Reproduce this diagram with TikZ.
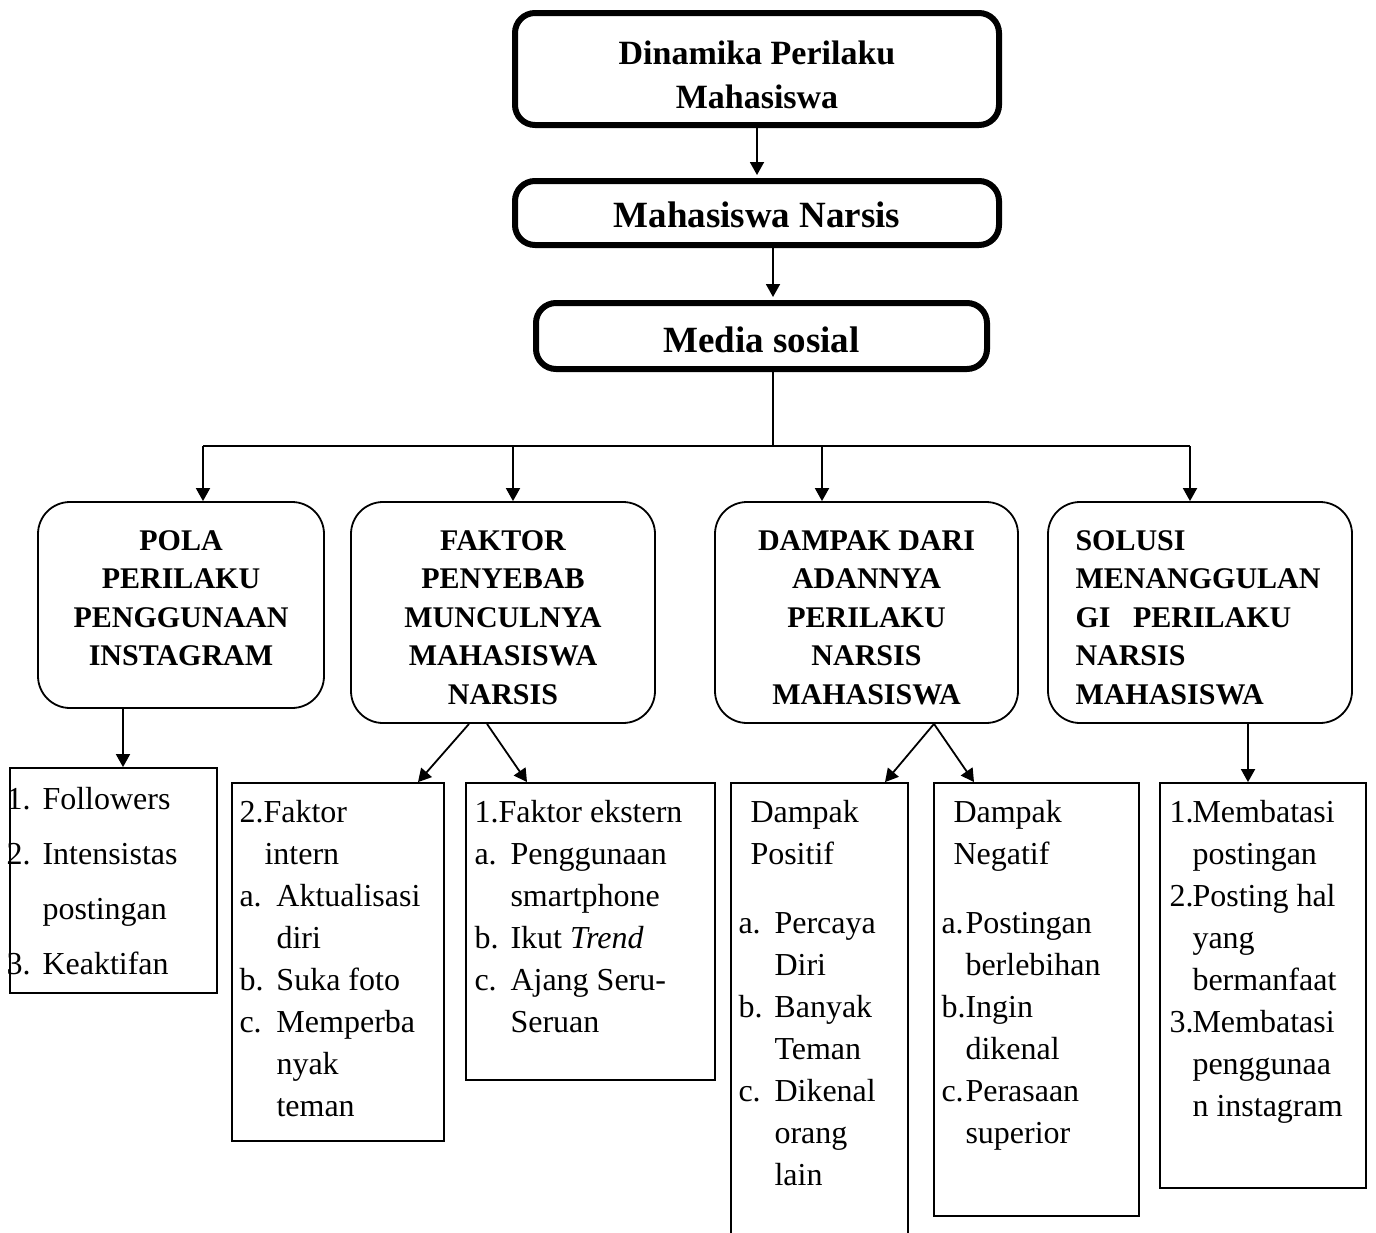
\documentclass[tikz,border=0pt]{standalone}
\usepackage{fontspec}
\setmainfont{Liberation Serif}
\usetikzlibrary{arrows.meta}

\newcommand{\lbl}[2]{\makebox[#1][l]{#2}}
\newcommand{\ind}[1]{\hspace*{#1}}

\begin{document}
\begin{tikzpicture}[x=0.5pt,y=-0.5pt,
        txt/.style={anchor=north west,inner sep=0pt,align=left,font=\fontsize{16}{21}\selectfont},
        head/.style={inner sep=0pt,align=center,font=\fontsize{15}{19.25}\selectfont\bfseries}]
    \useasboundingbox (0,0) rectangle (1376,1232);
    % top chain
    \begin{scope}[every node/.style={draw,line width=3pt,rounded corners=10pt,align=center,inner sep=0pt}]
        \node (dyn) [minimum width=242pt,minimum height=56pt] at (757,69) {};
        \node (nar) [minimum width=242pt,minimum height=32pt,text height=14.6pt,font=\fontsize{18.5}{22}\selectfont\bfseries] at (757,213) {Mahasiswa Narsis};
        \node (med) [minimum width=225.5pt,minimum height=33pt,text height=16.6pt,font=\fontsize{18.5}{22}\selectfont\bfseries] at (761.5,336) {Media sosial};
    \end{scope}
    \node[inner sep=0pt,align=center,font=\fontsize{17}{22}\selectfont\bfseries] (tdyn) at ([yshift=-3pt]dyn.center) {Dinamika Perilaku\\Mahasiswa};
    % second row
    \begin{scope}[every node/.style={draw,line width=0.9pt,rounded corners=16pt,inner sep=0pt}]
        \node (pola) [minimum width=143pt,minimum height=103pt] at (181,605) {};
        \node (fak) [minimum width=152pt,minimum height=110.5pt] at (503,612.5) {};
        \node (dam) [minimum width=151.5pt,minimum height=110.5pt] at (866.5,612.5) {};
        \node (sol) [minimum width=152pt,minimum height=110.5pt] at (1200,612.5) {};
    \end{scope}
    \node[head] (hpola) at ([yshift=3.5pt]pola.center) {POLA\\PERILAKU\\PENGGUNAAN\\INSTAGRAM};
    \node[head] (hfak) at ([yshift=-2.5pt]fak.center) {FAKTOR\\PENYEBAB\\MUNCULNYA\\MAHASISWA\\NARSIS};
    \node[head] (hdam) at ([yshift=-2.5pt]dam.center) {DAMPAK DARI\\ADANNYA\\PERILAKU\\NARSIS\\MAHASISWA};
    \node[head,align=left] (hsol) at ([xshift=-1pt,yshift=-2.5pt]sol.center) {SOLUSI\\MENANGGULAN\\GI\ \ \ PERILAKU\\NARSIS\\MAHASISWA};
    % list boxes
    \begin{scope}[every node/.style={draw,line width=0.9pt,inner sep=0pt}]
        \node (lpola) [minimum width=103.5pt,minimum height=112.5pt] at (113.5,880.5) {};
        \node (lintern) [minimum width=106pt,minimum height=179pt] at (338,962) {};
        \node (lekstern) [minimum width=124.5pt,minimum height=148.5pt] at (590.5,931.5) {};
        \node (lpositif) [minimum width=88.5pt,minimum height=233.5pt] at (819.5,1016.5) {};
        \node (lnegatif) [minimum width=102.5pt,minimum height=216.5pt] at (1036.5,999.5) {};
        \node (lsolusi) [minimum width=103pt,minimum height=202.5pt] at (1263,985.5) {};
    \end{scope}
    % list texts
    \node[txt,font=\fontsize{16}{27.5}\selectfont] (tpola) at ([xshift=-1.5pt,yshift=-10pt]lpola.north west)
        {\lbl{18pt}{1.}Followers\\\lbl{18pt}{2.}Intensistas\\\ind{18pt}postingan\\\lbl{18pt}{3.}Keaktifan};
    \node[txt] (tintern) at ([xshift=4pt,yshift=-9pt]lintern.north west)
        {2.Faktor\\\ind{12.5pt}intern\\\lbl{18.5pt}{a.}Aktualisasi\\\ind{18.5pt}diri\\\lbl{18.5pt}{b.}Suka foto\\\lbl{18.5pt}{c.}Memperba\\\ind{18.5pt}nyak\\\ind{18.5pt}teman};
    \node[txt] (tekstern) at ([xshift=4.5pt,yshift=-9pt]lekstern.north west)
        {1.Faktor ekstern\\\lbl{18pt}{a.}Penggunaan\\\ind{18pt}smartphone\\\lbl{18pt}{b.}Ikut \textit{Trend}\\\lbl{18pt}{c.}Ajang Seru-\\\ind{18pt}Seruan};
    \node[txt] (tpositif) at ([xshift=4pt,yshift=-9pt]lpositif.north west)
        {\ind{6pt}Dampak\\\ind{6pt}Positif\\[13.5pt]\lbl{18pt}{a.}Percaya\\\ind{18pt}Diri\\\lbl{18pt}{b.}Banyak\\\ind{18pt}Teman\\\lbl{18pt}{c.}Dikenal\\\ind{18pt}orang\\\ind{18pt}lain};
    \node[txt] (tnegatif) at ([xshift=4pt,yshift=-9pt]lnegatif.north west)
        {\ind{6pt}Dampak\\\ind{6pt}Negatif\\[13.5pt]\lbl{12pt}{a.}Postingan\\\ind{12pt}berlebihan\\\lbl{12pt}{b.}Ingin\\\ind{12pt}dikenal\\\lbl{12pt}{c.}Perasaan\\\ind{12pt}superior};
    \node[txt] (tsolusi) at ([xshift=5pt,yshift=-9pt]lsolusi.north west)
        {\lbl{11.5pt}{1.}Membatasi\\\ind{11.5pt}postingan\\\lbl{11.5pt}{2.}Posting hal\\\ind{11.5pt}yang\\\ind{11.5pt}bermanfaat\\\lbl{11.5pt}{3.}Membatasi\\\ind{11.5pt}penggunaa\\\ind{11.5pt}n instagram};
    % bus
    \coordinate (bus) at (773,446);
    \coordinate (d1) at (203,446);
    \coordinate (d2) at (513,446);
    \coordinate (d3) at (822,446);
    \coordinate (d4) at (1190,446);
    \draw[line width=0.9pt] (med.south -| bus) -- (bus);
    \draw[line width=0.9pt] (d1) -- (d4);
    % arrows
    \begin{scope}[every edge/.style={draw,line width=0.9pt,-{Triangle[length=6.5pt,width=7pt]}}]
        \path
            (dyn.south) edge[shorten >=1.5pt] (nar.north)
            ([xshift=8pt]nar.south) edge[shorten >=1.5pt] ([xshift=8pt]nar.south |- med.north)
            (d1) edge (d1 |- pola.north)
            (d2) edge (d2 |- fak.north)
            (d3) edge (d3 |- dam.north)
            (d4) edge (d4 |- sol.north)
            ([xshift=-29pt]pola.south) edge ([xshift=-29pt]pola.south |- lpola.north)
            ([xshift=-17pt]fak.south) edge ([xshift=40pt]lintern.north)
            ([xshift=-8pt]fak.south) edge ([xshift=-31.75pt]lekstern.north)
            ([xshift=33.75pt]dam.south) edge ([xshift=32.75pt]lpositif.north)
            ([xshift=33.75pt]dam.south) edge ([xshift=-31.25pt]lnegatif.north)
            ([xshift=24pt]sol.south) edge ([xshift=24pt]sol.south |- lsolusi.north);
    \end{scope}
\end{tikzpicture}
\end{document}
